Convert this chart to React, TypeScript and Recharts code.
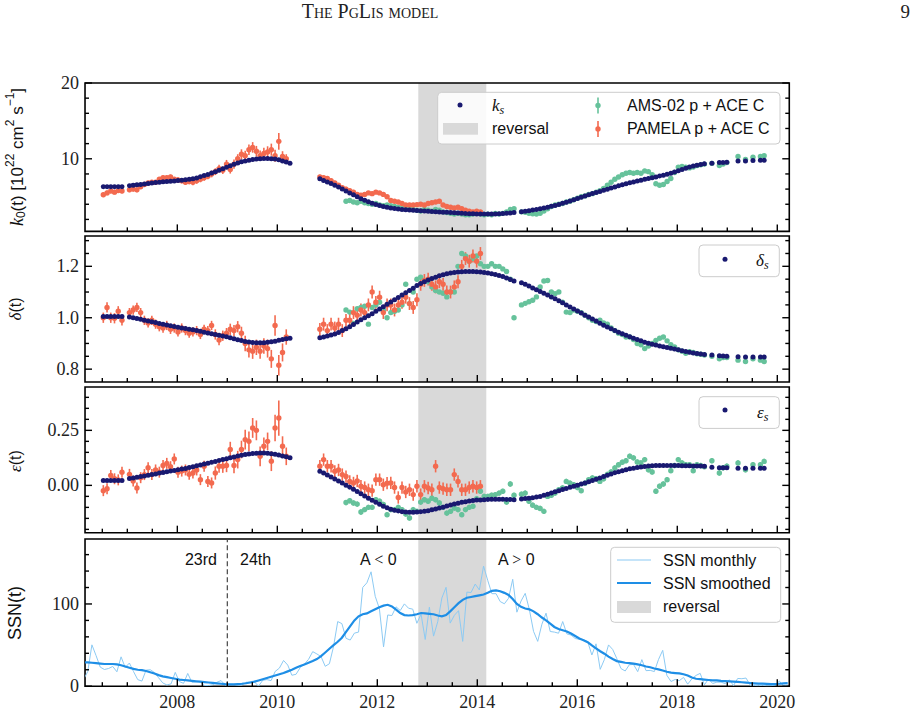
import React from "react"
import { ComposedChart, Scatter, Line, XAxis, YAxis, ReferenceArea, ReferenceLine, ErrorBar } from "recharts"

const SERIF = "'Liberation Serif', 'DejaVu Serif', serif"
const SANS = "'Liberation Sans', Arial, sans-serif"

const NAVY = "#191970"
const ORANGE = "#f36a4f"
const GREEN = "#66c29b"
const BAND = "#d9d9d9"
const SSN_THIN = "#8ccaf3"
const SSN_THICK = "#1e8ee6"

const W = 913
const PLOT_LEFT = 85
const PLOT_RIGHT = 789.3
const X_MIN = 2006.154
const X_MAX = 2020.24

const YEAR_TICKS = [2008, 2010, 2012, 2014, 2016, 2018, 2020]
const HALF_YEAR_TICKS = [
  2006.5, 2007, 2007.5, 2008.5, 2009, 2009.5, 2010.5, 2011, 2011.5, 2012.5, 2013, 2013.5,
  2014.5, 2015, 2015.5, 2016.5, 2017, 2017.5, 2018.5, 2019, 2019.5,
]

// polarity reversal window and the cycle 23/24 boundary
const REVERSAL: [number, number] = [2012.82, 2014.18]
const CYCLE_24_START = 2009.0

// one value per Carrington rotation, index 0 = first rotation of the fit
const ROT_START = 2006.52
const ROT_YEARS = 27.2753 / 365.25
const _ = null

// ---- k0 (10^22 cm^2 s^-1) ----
const KS = [
  6.3, 6.3, 6.3, 6.3, 6.3, 6.3, _, 6.45, 6.5, 6.56,
  6.62, 6.68, 6.75, 6.82, 6.87, 6.92, 6.96, 7.0, 7.04, 7.08,
  7.12, 7.17, 7.22, 7.29, 7.36, 7.48, 7.62, 7.78, 7.94, 8.12,
  8.3, 8.48, 8.68, 8.88, 9.08, 9.28, 9.45, 9.6, 9.72, 9.82,
  9.9, 9.96, 10.0, 10.03, 10.04, 10.02, 9.96, 9.86, 9.72, 9.56,
  9.42, _, _, _, _, _, _, _, 7.35, 7.15,
  6.95, 6.75, 6.52, 6.28, 6.02, 5.76, 5.5, 5.24, 4.98, 4.74,
  4.52, 4.32, 4.14, 3.98, 3.84, 3.72, 3.62, 3.52, 3.44, 3.37,
  3.32, 3.28, 3.24, 3.2, 3.17, 3.14, 3.11, 3.08, 3.05, 3.02,
  2.99, 2.96, 2.93, 2.9, 2.87, 2.84, 2.81, 2.78, 2.76, 2.74,
  2.72, 2.71, 2.7, 2.7, 2.71, 2.73, 2.75, 2.78, 2.82, 2.86,
  2.9, _, 3.02, 3.08, 3.15, 3.23, 3.31, 3.41, 3.51, 3.62,
  3.73, 3.85, 3.98, 4.12, 4.27, 4.42, 4.58, 4.75, 4.93, 5.1,
  5.26, 5.41, 5.56, 5.7, 5.84, 5.98, 6.13, 6.28, 6.43, 6.57,
  6.7, 6.83, 6.95, 7.07, 7.18, 7.29, 7.4, 7.5, 7.61, 7.72,
  7.84, 7.97, 8.1, 8.25, 8.42, 8.6, 8.76, 8.92, 9.05, 9.16,
  9.26, 9.34, _, 9.42, _, 9.5, 9.52, 9.55, _, _,
  9.7, _, 9.72, _, 9.78, _, 9.8, 9.8,
]
const PAM_K = [
  5.25, 5.5, 5.75, 5.6, 5.8, 5.75, _, 5.9, 6.0, 5.9,
  6.3, 6.6, 6.8, 6.9, 6.9, 7.3, 7.5, 7.5, 7.6, 7.3,
  7.2, 7.1, 6.9, 7.0, 6.9, 7.1, 7.3, 7.5, 7.7, 8.0,
  8.3, 8.7, 8.5, 9.3, 8.6, 9.3, 10.0, 10.6, 10.4, 11.2,
  11.5, 11.0, 10.4, 10.7, 10.9, 11.2, 10.4, 12.3, 10.3, 10.0,
  _, _, _, _, _, _, _, _, 7.6, 7.5,
  7.4, 7.1, 6.8, 6.5, 6.2, 6.0, 5.8, 5.6, 5.3, 5.2,
  5.3, 5.5, 5.4, 5.6, 5.5, 5.3, 5.0, 4.5, 4.4, 4.3,
  4.1, 3.9, 3.9, 3.9, 3.95, 4.0, 3.9, 4.1, 4.2, 4.3,
  4.4, 3.9, 3.7, 3.6, 3.5, 3.6, 3.4, 3.2, 3.1, 3.0,
  3.1, 3.0,
]
const PAM_K_ERR = [
  0.3, 0.3, 0.3, 0.3, 0.3, 0.3, _, 0.3, 0.3, 0.3,
  0.3, 0.3, 0.3, 0.3, 0.3, 0.3, 0.3, 0.3, 0.3, 0.3,
  0.35, 0.35, 0.35, 0.35, 0.4, 0.4, 0.4, 0.4, 0.4, 0.45,
  0.45, 0.5, 0.5, 0.55, 0.55, 0.6, 0.6, 0.65, 0.65, 0.7,
  0.7, 0.7, 0.7, 0.75, 0.75, 0.8, 0.8, 1.1, 0.7, 0.6,
  _, _, _, _, _, _, _, _, 0.3, 0.3,
  0.3, 0.3, 0.3, 0.3, 0.3, 0.3, 0.3, 0.3, 0.3, 0.3,
  0.25, 0.25, 0.25, 0.25, 0.25, 0.25, 0.25, 0.25, 0.25, 0.25,
  0.25, 0.25, 0.25, 0.25, 0.25, 0.25, 0.25, 0.25, 0.25, 0.25,
  0.25, 0.25, 0.25, 0.25, 0.25, 0.25, 0.25, 0.25, 0.25, 0.25,
  0.25, 0.25,
]
const AMS_FROM = 65
const AMS_K = [
  4.4, 4.5, 4.3, 4.2, 4.4,
  4.2, 4.1, 4.0, 4.1, 3.9, 3.8, 3.9, 3.8, 3.7, 3.6,
  3.5, 3.4, 3.5, 3.3, 3.2, 3.1, 3.3, 3.2, 3.1, 3.3,
  3.2, 3.0, 2.9, 2.8, 2.7, 2.8, 2.7, 2.6, 2.6, 2.7,
  2.8, 2.7, 2.6, 2.7, 2.6, 2.8, 2.7, 2.8, 3.0, 3.3,
  3.4, _, 3.0, 2.95, 2.8, 2.75, 2.7, 2.8, 3.1, 3.4,
  3.7, 3.9, 4.0, 4.1, 4.3, 4.4, 4.6, 4.8, 5.0, 5.1,
  5.3, 5.4, 5.6, 5.8, 6.1, 6.5, 6.9, 7.3, 7.6, 7.9,
  8.1, 8.2, 8.1, 8.2, 8.1, 8.4, 8.3, 7.9, 6.7, 6.5,
  6.6, 7.0, 7.4, 8.2, 8.9, 9.0, 8.9, 8.8, 8.9, 9.1,
  9.2, 9.3, _, 9.4, _, 9.1, 9.3, 9.5, _, _,
  10.3, _, 9.9, _, 10.2, _, 10.3, 10.4,
]
const AMS_K_ERR = 0.12

// ---- delta ----
const DS = [
  1.005, 1.005, 1.005, 1.005, 1.005, 1.005, _, 1.003, 1.0, 0.997,
  0.994, 0.99, 0.987, 0.984, 0.981, 0.978, 0.975, 0.972, 0.969, 0.966,
  0.963, 0.96, 0.958, 0.955, 0.953, 0.95, 0.947, 0.944, 0.941, 0.938,
  0.935, 0.932, 0.929, 0.926, 0.922, 0.918, 0.914, 0.911, 0.908, 0.906,
  0.904, 0.903, 0.903, 0.903, 0.905, 0.907, 0.909, 0.912, 0.915, 0.918,
  0.92, _, _, _, _, _, _, _, 0.922, 0.925,
  0.929, 0.933, 0.937, 0.943, 0.95, 0.957, 0.965, 0.974, 0.983, 0.992,
  1.0, 1.008, 1.016, 1.025, 1.034, 1.043, 1.052, 1.061, 1.07, 1.079,
  1.088, 1.097, 1.106, 1.115, 1.125, 1.133, 1.14, 1.147, 1.153, 1.158,
  1.163, 1.167, 1.171, 1.174, 1.176, 1.178, 1.179, 1.18, 1.18, 1.18,
  1.179, 1.178, 1.176, 1.174, 1.171, 1.168, 1.164, 1.16, 1.155, 1.149,
  1.143, _, 1.136, 1.13, 1.123, 1.116, 1.109, 1.102, 1.095, 1.088,
  1.081, 1.074, 1.066, 1.058, 1.05, 1.042, 1.034, 1.026, 1.018, 1.01,
  1.003, 0.995, 0.987, 0.979, 0.971, 0.964, 0.957, 0.95, 0.944, 0.938,
  0.932, 0.926, 0.92, 0.915, 0.91, 0.905, 0.901, 0.897, 0.894, 0.89,
  0.887, 0.884, 0.881, 0.878, 0.875, 0.872, 0.869, 0.866, 0.863, 0.861,
  0.859, 0.857, _, 0.855, _, 0.852, 0.851, 0.85, _, _,
  0.848, _, 0.847, _, 0.847, _, 0.847, 0.847,
]
const PAM_D = [
  1.0, 1.04, 1.0, 0.998, 1.025, 0.99, _, 1.02, 1.03, 1.04,
  1.02, 0.99, 0.98, 0.99, 0.975, 0.965, 0.96, 0.97, 0.955, 0.96,
  0.945, 0.96, 0.95, 0.94, 0.945, 0.95, 0.935, 0.955, 0.95, 0.97,
  0.935, 0.913, 0.93, 0.94, 0.955, 0.95, 0.965, 0.94, 0.9, 0.875,
  0.87, 0.885, 0.87, 0.89, 0.88, 0.84, 0.97, 0.815, 0.865, 0.925,
  _, _, _, _, _, _, _, _, 0.955, 0.975,
  0.95, 0.975, 0.96, 0.975, 0.95, 0.99, 0.99, 1.02, 1.01, 1.03,
  1.02, 1.05, 1.1, 1.06, 1.08, 1.02, 1.05, 1.05, 1.03, 1.05,
  1.06, 1.08, 1.055, 1.04, 1.07, 1.13, 1.145, 1.15, 1.13, 1.12,
  1.14, 1.13, 1.1, 1.1, 1.12, 1.14, 1.2, 1.23, 1.22, 1.24,
  1.22, 1.25,
]
const PAM_D_ERR = [
  0.02, 0.02, 0.02, 0.02, 0.02, 0.02, _, 0.018, 0.018, 0.018,
  0.018, 0.018, 0.018, 0.018, 0.018, 0.018, 0.018, 0.018, 0.018, 0.018,
  0.018, 0.018, 0.018, 0.018, 0.018, 0.018, 0.018, 0.018, 0.018, 0.018,
  0.02, 0.02, 0.02, 0.02, 0.022, 0.022, 0.022, 0.025, 0.03, 0.03,
  0.03, 0.03, 0.03, 0.03, 0.035, 0.035, 0.04, 0.04, 0.035, 0.03,
  _, _, _, _, _, _, _, _, 0.025, 0.025,
  0.025, 0.025, 0.025, 0.025, 0.025, 0.025, 0.025, 0.025, 0.025, 0.025,
  0.025, 0.025, 0.025, 0.025, 0.025, 0.025, 0.025, 0.025, 0.025, 0.025,
  0.025, 0.025, 0.025, 0.025, 0.025, 0.025, 0.025, 0.025, 0.025, 0.025,
  0.025, 0.025, 0.025, 0.025, 0.025, 0.025, 0.025, 0.025, 0.025, 0.025,
  0.025, 0.025,
]
const AMS_D = [
  1.03, 1.022, 0.978, 1.035, 1.04,
  1.045, 0.975, 1.04, 1.05, 1.06, 1.03, 1.0, 1.02, 1.025, 1.03,
  1.05, 1.13, 1.055, 1.1, 1.15, 1.158, 1.145, 1.14, 1.12, 1.106,
  1.1, 1.095, 1.081, 1.1, 1.1, 1.2, 1.25, 1.24, 1.22, 1.23,
  1.24, 1.21, 1.2, 1.2, 1.21, 1.2, 1.2, 1.19, 1.18, 1.15,
  1.0, _, 1.05, 1.056, 1.062, 1.068, 1.081, 1.12, 1.143, 1.145,
  1.1, 1.094, 1.1, 1.06, 1.022, 1.02, 1.03, 1.025, 1.02, 1.01,
  1.0, 0.99, 0.985, 0.99, 0.98, 0.975, 0.96, 0.95, 0.94, 0.935,
  0.925, 0.925, 0.915, 0.9, 0.895, 0.88, 0.89, 0.9, 0.912, 0.92,
  0.925, 0.91, 0.895, 0.886, 0.875, 0.87, 0.862, 0.868, 0.865, 0.86,
  0.858, 0.855, _, 0.85, _, 0.84, 0.845, 0.845, _, _,
  0.835, _, 0.83, _, 0.84, _, 0.835, 0.83,
]
const AMS_D_ERR = 0.006

// ---- epsilon ----
const ES = [
  0.022, 0.022, 0.022, 0.022, 0.022, 0.022, _, 0.031, 0.034, 0.037,
  0.04, 0.043, 0.046, 0.049, 0.052, 0.056, 0.059, 0.062, 0.065, 0.068,
  0.071, 0.074, 0.077, 0.081, 0.085, 0.089, 0.093, 0.097, 0.101, 0.105,
  0.109, 0.113, 0.117, 0.121, 0.125, 0.129, 0.133, 0.137, 0.14, 0.143,
  0.145, 0.146, 0.147, 0.147, 0.146, 0.144, 0.141, 0.138, 0.134, 0.13,
  0.126, _, _, _, _, _, _, _, 0.064, 0.056,
  0.047, 0.038, 0.029, 0.02, 0.011, 0.001, -0.008, -0.018, -0.028, -0.038,
  -0.048, -0.058, -0.068, -0.077, -0.086, -0.095, -0.102, -0.108, -0.113, -0.117,
  -0.12, -0.121, -0.122, -0.122, -0.121, -0.12, -0.118, -0.115, -0.111, -0.107,
  -0.103, -0.099, -0.094, -0.089, -0.085, -0.081, -0.077, -0.074, -0.071, -0.069,
  -0.067, -0.066, -0.065, -0.064, -0.063, -0.063, -0.063, -0.063, -0.064, -0.064,
  -0.065, _, -0.062, -0.06, -0.058, -0.056, -0.053, -0.05, -0.045, -0.04,
  -0.035, -0.029, -0.024, -0.019, -0.014, -0.009, -0.004, 0.001, 0.006, 0.011,
  0.016, 0.022, 0.028, 0.034, 0.04, 0.046, 0.052, 0.057, 0.062, 0.067,
  0.071, 0.075, 0.078, 0.081, 0.084, 0.086, 0.088, 0.089, 0.09, 0.09,
  0.09, 0.09, 0.09, 0.09, 0.09, 0.089, 0.089, 0.089, 0.088, 0.088,
  0.088, 0.087, _, 0.082, _, 0.08, 0.08, 0.08, _, _,
  0.078, _, 0.078, _, 0.078, _, 0.078, 0.078,
]
const PAM_E = [
  -0.024, -0.015, 0.045, 0.03, 0.025, 0.06, _, 0.05, 0.02, -0.012,
  0.035, 0.049, 0.08, 0.049, 0.07, 0.06, 0.09, 0.1, 0.085, 0.12,
  0.06, 0.065, 0.07, 0.05, 0.056, 0.07, 0.026, 0.087, 0.018, 0.011,
  0.056, 0.087, 0.087, 0.09, 0.163, 0.09, 0.117, 0.163, 0.208, 0.2,
  0.261, 0.25, 0.132, 0.178, 0.2, 0.11, 0.261, 0.306, 0.178, 0.132,
  _, _, _, _, _, _, _, _, 0.087, 0.117,
  0.087, 0.087, 0.064, 0.07, 0.049, 0.04, 0.018, 0.011, 0.02, -0.004,
  -0.01, -0.02, -0.024, 0.026, 0.026, 0.003, 0.01, 0.011, -0.01, -0.055,
  -0.01, -0.03, -0.02, -0.042, -0.004, -0.042, -0.004, -0.012, -0.02, 0.087,
  -0.01, -0.015, -0.02, -0.02, 0.049, 0.018, -0.02, -0.02, -0.01, -0.004,
  -0.01, -0.004,
]
const PAM_E_ERR = [
  0.025, 0.025, 0.025, 0.025, 0.025, 0.025, _, 0.025, 0.025, 0.025,
  0.025, 0.025, 0.025, 0.025, 0.025, 0.025, 0.025, 0.025, 0.025, 0.025,
  0.025, 0.025, 0.025, 0.025, 0.025, 0.025, 0.025, 0.025, 0.025, 0.025,
  0.03, 0.03, 0.03, 0.03, 0.035, 0.035, 0.04, 0.04, 0.045, 0.045,
  0.045, 0.045, 0.045, 0.04, 0.04, 0.045, 0.06, 0.08, 0.045, 0.04,
  _, _, _, _, _, _, _, _, 0.028, 0.028,
  0.028, 0.028, 0.028, 0.028, 0.028, 0.028, 0.028, 0.028, 0.028, 0.028,
  0.028, 0.028, 0.028, 0.028, 0.028, 0.028, 0.028, 0.028, 0.028, 0.028,
  0.028, 0.028, 0.028, 0.028, 0.028, 0.028, 0.028, 0.028, 0.028, 0.028,
  0.028, 0.028, 0.028, 0.028, 0.028, 0.028, 0.028, 0.028, 0.028, 0.028,
  0.028, 0.028,
]
const AMS_E = [
  -0.078, -0.07, -0.08, -0.085, -0.121,
  -0.11, -0.1, -0.1, -0.065, -0.072, -0.087, -0.133, -0.11, -0.11, -0.1,
  -0.11, -0.13, -0.148, -0.11, -0.118, -0.076, -0.065, -0.072, -0.058, -0.065,
  -0.08, -0.1, -0.126, -0.118, -0.103, -0.11, -0.133, -0.11, -0.1, -0.095,
  -0.06, -0.027, -0.05, -0.05, -0.045, -0.042, -0.035, -0.027, -0.076, 0.006,
  -0.045, _, -0.04, -0.035, -0.072, -0.09, -0.1, -0.105, -0.118, -0.05,
  -0.045, -0.035, -0.02, -0.012, 0.018, 0.01, 0.003, -0.01, -0.024, 0.01,
  0.026, 0.034, 0.03, 0.018, 0.03, 0.05, 0.061, 0.079, 0.094, 0.105,
  0.112, 0.132, 0.125, 0.106, 0.102, 0.117, 0.071, 0.061, -0.027, -0.004,
  0.006, 0.026, 0.067, 0.09, 0.117, 0.102, 0.094, 0.094, 0.067, 0.094,
  0.09, 0.085, _, 0.112, _, 0.056, 0.08, 0.087, _, _,
  0.102, _, 0.071, _, 0.094, _, 0.094, 0.109,
]
const AMS_E_ERR = 0.012

// ---- sunspot number, monthly from Jan 2006 ----
const SSN_MONTHLY = [
  25.5, 8.2, 17.7, 50.3, 37.2, 23.2, 20.3, 21.5, 24.0, 17.5, 35.7, 22.7,
  28.2, 17.7, 8.0, 6.2, 19.5, 20.0, 16.7, 10.3, 4.0, 1.5, 2.8, 16.8,
  5.5, 3.5, 15.5, 4.8, 4.8, 5.2, 0.8, 0.8, 1.8, 4.8, 6.8, 1.3,
  2.5, 2.3, 1.2, 1.3, 4.8, 4.8, 5.3, 0.0, 7.2, 8.0, 6.8, 18.0,
  22.0, 31.3, 25.7, 13.3, 14.5, 22.7, 26.8, 32.7, 42.0, 39.2, 36.0, 24.2,
  27.3, 48.3, 78.6, 76.1, 58.2, 56.1, 64.5, 65.8, 120.1, 125.7, 139.1, 109.3,
  94.4, 47.8, 86.6, 85.9, 96.5, 92.0, 100.1, 94.8, 93.7, 76.5, 87.6, 56.8,
  96.1, 60.9, 78.3, 107.3, 120.2, 76.7, 86.2, 91.8, 54.5, 114.4, 113.9, 124.2,
  117.0, 146.1, 128.7, 112.5, 112.5, 102.9, 100.2, 106.9, 130.0, 90.0, 103.6, 112.9,
  93.0, 66.7, 54.5, 75.3, 88.8, 66.5, 65.8, 64.4, 78.6, 63.6, 62.2, 58.0,
  57.0, 56.4, 54.1, 37.9, 51.5, 20.5, 32.4, 50.2, 44.6, 33.4, 21.4, 18.5,
  26.1, 26.4, 17.7, 32.3, 18.9, 19.2, 17.8, 32.6, 43.6, 13.2, 5.7, 8.2,
  6.8, 10.7, 2.5, 8.9, 13.1, 15.6, 1.6, 8.7, 3.3, 4.9, 4.9, 3.1,
  7.7, 0.8, 9.4, 9.1, 9.9, 1.2, 0.9, 0.5, 1.1, 0.4, 0.5, 1.5,
  6.2, 0.2, 1.5,
]
const SSN_SMOOTHED = [
  29, 29, 29, 28.5, 28, 27.5, 27, 27, 27, 26.5, 25.5, 24,
  22.5, 21, 20, 19.5, 18.5, 17, 15.5, 13.5, 12, 11, 10, 9,
  8, 7.5, 7, 6.5, 6, 5.5, 5, 4.5, 4, 3.5, 3, 2.5,
  2.2, 2.3, 2.6, 3, 3.6, 4.5, 5.5, 7, 8.5, 10, 11.5, 13,
  14.5, 16, 18, 20, 22.5, 24.5, 26.5, 28.5, 30.5, 33, 36.5, 41,
  45.5, 50, 54, 59, 66, 73, 80, 85, 87.5, 88.5, 91, 93.5,
  96, 98, 99, 97, 93, 89, 86.5, 86, 86.5, 87.5, 89, 88.5,
  88, 87.5, 86, 85, 86.5, 91, 96, 101, 105, 107.5, 108.5, 109.5,
  110.5, 111.5, 113.5, 116, 116.5, 115.5, 113.5, 111, 106, 100, 96.5, 94.5,
  93.5, 91, 87.5, 83.5, 80, 76, 72, 69.5, 68, 66.5, 64, 61,
  58, 56, 53.5, 49.5, 46, 42.5, 39.5, 36, 33, 30.5, 29.5, 28.5,
  28, 27.5, 26.5, 25.5, 24, 23, 21.5, 20.5, 19, 17.5, 16.5, 16,
  15.5, 14.5, 13, 10.5, 9, 8.5, 8, 7.5, 7, 7, 6.5, 6.2,
  5.8, 5.5, 5.2, 4.8, 4.3, 3.9, 3.5, 3.2, 3, 2.8, 2.6, 2.6,
  3, 3.4, 3.8,
]

type Pt = { t: number; v: number; e?: number }

function rotSeries(vals: (number | null)[], from = 0, err?: number | (number | null)[]): Pt[] {
  const out: Pt[] = []
  vals.forEach((v, k) => {
    if (v == null) return
    const e = typeof err === "number" ? err : err ? err[k] ?? undefined : undefined
    out.push({ t: ROT_START + (from + k) * ROT_YEARS, v, e: e ?? undefined })
  })
  return out
}

function monthSeries(vals: number[]): Pt[] {
  return vals.map((v, k) => ({ t: 2006 + (k + 0.5) / 12, v }))
}

interface PanelSpec {
  top: number
  bottom: number
  domain: [number, number]
  major: number[]
  minor: number[]
  fmt: (v: number) => string
}

const P_K: PanelSpec = { top: 83.3, bottom: 231.7, domain: [0.42, 20], major: [10, 20], minor: [2, 4, 6, 8, 12, 14, 16, 18], fmt: v => String(v) }
const P_D: PanelSpec = { top: 235.7, bottom: 381.7, domain: [0.75, 1.318], major: [0.8, 1.0, 1.2], minor: [0.85, 0.9, 0.95, 1.05, 1.1, 1.15, 1.25, 1.3], fmt: v => v.toFixed(1) }
const P_E: PanelSpec = { top: 387.3, bottom: 533, domain: [-0.215, 0.447], major: [0, 0.25], minor: [-0.2, -0.15, -0.1, -0.05, 0.05, 0.1, 0.15, 0.2, 0.3, 0.35, 0.4], fmt: v => v.toFixed(2) }
const P_S: PanelSpec = { top: 539.3, bottom: 686.5, domain: [0, 179], major: [0, 100], minor: [20, 40, 60, 80, 120, 140, 160], fmt: v => String(v) }

const isMajor = (list: number[], v: number) => list.some(m => Math.abs(m - v) < 1e-9)

function XTick(props: any) {
  const { x, y, payload, label } = props
  const major = isMajor(YEAR_TICKS, payload.value)
  return (
    <g>
      <line x1={x} x2={x} y1={y} y2={y - (major ? 7 : 4)} stroke="#000" strokeWidth={1.4} />
      {label && major && (
        <text x={x} y={y + 22} textAnchor="middle" fontFamily={SERIF} fontSize={18} fill="#222">
          {payload.value}
        </text>
      )}
    </g>
  )
}

function YTick(props: any) {
  const { x, y, payload, dir, spec, labelled } = props
  const major = isMajor(spec.major, payload.value)
  return (
    <g>
      <line x1={x} x2={x + dir * (major ? 7 : 4)} y1={y} y2={y} stroke="#000" strokeWidth={1.4} />
      {labelled && major && (
        <text x={x - 6} y={y} dy="0.34em" textAnchor="end" fontFamily={SERIF} fontSize={18} fill="#222">
          {spec.fmt(payload.value)}
        </text>
      )}
    </g>
  )
}

function Dot(color: string, r: number) {
  return (p: any) => <circle cx={p.cx} cy={p.cy} r={r} fill={color} />
}

function Panel({ spec, years, children }: { spec: PanelSpec; years?: boolean; children: React.ReactNode }) {
  const padTop = 12
  const padBottom = years ? 30 : 12
  const h = spec.bottom - spec.top + padTop + padBottom
  const xTicks = [...YEAR_TICKS, ...HALF_YEAR_TICKS].sort((a, b) => a - b)
  const yTicks = [...spec.major, ...spec.minor].sort((a, b) => a - b)
  const axisCommon = { tickSize: 0, tickMargin: 0, axisLine: false, tickLine: false, interval: 0 as const, allowDataOverflow: true }
  // each axis takes 1px of the margin so that it still gets drawn
  return (
    <div style={{ position: "absolute", left: 0, top: spec.top - padTop }}>
      <ComposedChart width={W} height={h} margin={{ top: padTop, bottom: padBottom - 1, left: PLOT_LEFT - 1, right: W - PLOT_RIGHT - 1 }}>
        <XAxis {...axisCommon} type="number" dataKey="t" domain={[X_MIN, X_MAX]} ticks={xTicks} height={1}
          tick={(p: any) => <XTick {...p} label={years} />} />
        <YAxis {...axisCommon} type="number" domain={spec.domain} ticks={yTicks} width={1}
          tick={(p: any) => <YTick {...p} dir={1} spec={spec} labelled />} />
        <YAxis {...axisCommon} yAxisId="r" orientation="right" type="number" domain={spec.domain} ticks={yTicks} width={1}
          tick={(p: any) => <YTick {...p} dir={-1} spec={spec} />} />
        <ReferenceArea x1={REVERSAL[0]} x2={REVERSAL[1]} fill={BAND} fillOpacity={1} stroke="none" ifOverflow="visible" />
        {children}
        <ReferenceArea x1={X_MIN} x2={X_MAX} y1={spec.domain[0]} y2={spec.domain[1]} fill="none" stroke="#000" strokeWidth={1.6} ifOverflow="visible" />
      </ComposedChart>
    </div>
  )
}

function DataScatter({ data, color }: { data: Pt[]; color: string }) {
  return (
    <Scatter data={data} dataKey="v" shape={Dot(color, 2.7)} isAnimationActive={false}>
      <ErrorBar dataKey="e" direction="y" width={0} stroke={color} strokeWidth={1.6} isAnimationActive={false} />
    </Scatter>
  )
}

function ModelScatter({ data }: { data: Pt[] }) {
  return <Scatter data={data} dataKey="v" shape={Dot(NAVY, 2.5)} isAnimationActive={false} />
}

function ParamPanel({ spec, model, pam, ams }: { spec: PanelSpec; model: Pt[]; pam: Pt[]; ams: Pt[] }) {
  return (
    <Panel spec={spec}>
      {DataScatter({ data: ams, color: GREEN })}
      {DataScatter({ data: pam, color: ORANGE })}
      {ModelScatter({ data: model })}
    </Panel>
  )
}

function LegendBox({ x, y, w, h }: { x: number; y: number; w: number; h: number }) {
  return <rect x={x} y={y} width={w} height={h} rx={4} fill="#fff" fillOpacity={0.85} stroke="#cccccc" strokeWidth={1} />
}

function ErrMarker({ x, y, color }: { x: number; y: number; color: string }) {
  return (
    <g>
      <line x1={x} x2={x} y1={y - 8} y2={y + 8} stroke={color} strokeWidth={1.6} />
      <circle cx={x} cy={y} r={2.7} fill={color} />
    </g>
  )
}

function Overlay() {
  const txt = { fontFamily: SANS, fontSize: 16, fill: "#111" }
  return (
    <svg width={W} height={714} style={{ position: "absolute", left: 0, top: 0, pointerEvents: "none" }}>
      <text x={370} y={18} textAnchor="middle" fontFamily={SERIF} fontSize={20} fill="#222" style={{ fontVariant: "small-caps" }}>
        The PgLis model
      </text>
      <text x={910} y={18} textAnchor="end" fontFamily={SERIF} fontSize={19} fill="#222">9</text>

      {/* axis titles */}
      <text transform="rotate(-90 17 157)" x={17} y={157} textAnchor="middle" dominantBaseline="central" {...txt} fontSize={17}>
        <tspan fontFamily={SERIF} fontStyle="italic" fontSize={18}>k</tspan>
        <tspan fontSize={12} dy={4}>0</tspan>
        <tspan dy={-4}>(t) [10</tspan>
        <tspan fontSize={12} dy={-7}>22</tspan>
        <tspan dy={7}> cm</tspan>
        <tspan fontSize={12} dy={-7}>2</tspan>
        <tspan dy={7}> s</tspan>
        <tspan fontSize={12} dy={-7}>−1</tspan>
        <tspan dy={7}>]</tspan>
      </text>
      <text transform="rotate(-90 15 309)" x={15} y={309} textAnchor="middle" dominantBaseline="central" {...txt}>
        <tspan fontFamily={SERIF} fontStyle="italic" fontSize={17}>δ</tspan>(t)
      </text>
      <text transform="rotate(-90 15 461)" x={15} y={461} textAnchor="middle" dominantBaseline="central" {...txt}>
        <tspan fontFamily={SERIF} fontStyle="italic" fontSize={17}>ε</tspan>(t)
      </text>
      <text transform="rotate(-90 15 613)" x={15} y={613} textAnchor="middle" dominantBaseline="central" {...txt} fontSize={18}>
        SSN(t)
      </text>

      {/* k0 legend */}
      <LegendBox x={437.7} y={92.3} w={342.3} h={51.7} />
      <circle cx={460} cy={105} r={2.5} fill={NAVY} />
      <text x={492} y={111} fontFamily={SERIF} fontStyle="italic" fontSize={17} fill="#111">
        k<tspan fontSize={12} dy={3}>s</tspan>
      </text>
      <rect x={443} y={123} width={35} height={11.7} fill={BAND} />
      <text x={492} y={134} {...txt}>reversal</text>
      <ErrMarker x={598} y={105.5} color={GREEN} />
      <text x={627} y={111} {...txt}>AMS-02 p + ACE C</text>
      <ErrMarker x={598} y={129} color={ORANGE} />
      <text x={627} y={134} {...txt}>PAMELA p + ACE C</text>

      {/* delta legend */}
      <LegendBox x={699} y={245} w={80.3} h={31.7} />
      <circle cx={725} cy={259.3} r={2.5} fill={NAVY} />
      <text x={756} y={266} fontFamily={SERIF} fontStyle="italic" fontSize={17} fill="#111">
        δ<tspan fontSize={12} dy={3}>s</tspan>
      </text>

      {/* epsilon legend */}
      <LegendBox x={699} y={396.7} w={80.3} h={31.7} />
      <circle cx={725} cy={410} r={2.5} fill={NAVY} />
      <text x={757} y={418} fontFamily={SERIF} fontStyle="italic" fontSize={17} fill="#111">
        ε<tspan fontSize={12} dy={3}>s</tspan>
      </text>

      {/* SSN legend */}
      <LegendBox x={610.7} y={547.3} w={170} h={75} />
      <line x1={617} x2={651} y1={560} y2={560} stroke={SSN_THIN} strokeWidth={1.2} />
      <text x={663} y={565.5} {...txt}>SSN monthly</text>
      <line x1={617} x2={651} y1={583} y2={583} stroke={SSN_THICK} strokeWidth={2.2} />
      <text x={663} y={589} {...txt}>SSN smoothed</text>
      <rect x={617} y={601} width={34} height={12} fill={BAND} />
      <text x={663} y={612} {...txt}>reversal</text>

      {/* cycle and polarity notes */}
      <text x={217} y={565} textAnchor="end" {...txt}>23rd</text>
      <text x={240} y={565} {...txt}>24th</text>
      <text x={360} y={565} {...txt}>A <tspan fontFamily={SERIF}>&lt;</tspan> 0</text>
      <text x={498} y={565} {...txt}>A <tspan fontFamily={SERIF}>&gt;</tspan> 0</text>
    </svg>
  )
}

export default function App() {
  const ks = rotSeries(KS)
  const pamK = rotSeries(PAM_K, 0, PAM_K_ERR)
  const amsK = rotSeries(AMS_K, AMS_FROM, AMS_K_ERR)
  const ds = rotSeries(DS)
  const pamD = rotSeries(PAM_D, 0, PAM_D_ERR)
  const amsD = rotSeries(AMS_D, AMS_FROM, AMS_D_ERR)
  const es = rotSeries(ES)
  const pamE = rotSeries(PAM_E, 0, PAM_E_ERR)
  const amsE = rotSeries(AMS_E, AMS_FROM, AMS_E_ERR)
  const ssnM = monthSeries(SSN_MONTHLY)
  const ssnS = monthSeries(SSN_SMOOTHED)

  return (
    <div style={{ position: "absolute", left: 0, top: 0, width: W, height: 714, background: "#fff", overflow: "hidden" }}>
      <ParamPanel spec={P_K} model={ks} pam={pamK} ams={amsK} />
      <ParamPanel spec={P_D} model={ds} pam={pamD} ams={amsD} />
      <ParamPanel spec={P_E} model={es} pam={pamE} ams={amsE} />
      <Panel spec={P_S} years>
        <ReferenceLine x={CYCLE_24_START} stroke="#444" strokeDasharray="5 3" strokeWidth={1.2} />
        <Line data={ssnM} dataKey="v" type="linear" dot={false} stroke={SSN_THIN} strokeWidth={1} isAnimationActive={false} />
        <Line data={ssnS} dataKey="v" type="linear" dot={false} stroke={SSN_THICK} strokeWidth={2.2} isAnimationActive={false} />
      </Panel>
      <Overlay />
    </div>
  )
}
